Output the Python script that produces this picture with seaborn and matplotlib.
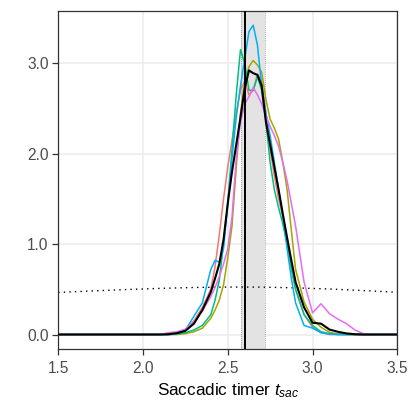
import numpy as np
import pandas as pd
import seaborn as sns
import matplotlib
matplotlib.use("Agg")
import matplotlib.pyplot as plt

# x grid the curves were read on
grid = [1.5, 2.10, 2.15, 2.20, 2.25, 2.30, 2.35, 2.40, 2.425, 2.45, 2.475, 2.50, 2.525,
        2.55, 2.575, 2.60, 2.625, 2.65, 2.675, 2.70, 2.725, 2.75, 2.775, 2.80, 2.825,
        2.85, 2.875, 2.90, 2.95, 3.00, 3.05, 3.10, 3.15, 3.20, 3.25, 3.30, 3.35, 3.5]

run_1 = [0, 0, 0, 0.01, 0.05, 0.15, 0.30, 0.50, 0.75, 1.10, 1.50, 1.85, 2.15,
         2.45, 2.70, 2.80, 2.65, 2.70, 2.88, 2.80, 2.45, 2.05, 1.75, 1.50, 1.30,
         1.00, 0.72, 0.50, 0.22, 0.08, 0.02, 0, 0, 0, 0, 0, 0, 0]
run_2 = [0, 0, 0, 0, 0.01, 0.03, 0.07, 0.18, 0.27, 0.38, 0.55, 0.85, 1.20,
         1.85, 2.45, 2.80, 2.96, 3.03, 2.98, 2.90, 2.60, 2.38, 2.28, 2.16, 1.90,
         1.60, 1.15, 0.72, 0.36, 0.17, 0.08, 0.025, 0.005, 0, 0, 0, 0, 0]
run_3 = [0, 0, 0, 0.005, 0.02, 0.05, 0.10, 0.22, 0.38, 0.60, 1.00, 1.45, 2.05,
         2.65, 3.15, 3.00, 2.70, 2.70, 2.85, 2.70, 2.35, 1.90, 1.60, 1.40, 1.22,
         1.00, 0.75, 0.50, 0.22, 0.10, 0.03, 0.01, 0, 0, 0, 0, 0, 0]
run_4 = [0, 0, 0, 0.01, 0.05, 0.20, 0.35, 0.72, 0.82, 0.80, 0.95, 1.45, 1.95,
         2.40, 2.75, 3.05, 3.35, 3.42, 3.20, 2.75, 2.45, 2.20, 1.90, 1.60, 1.30,
         0.95, 0.62, 0.35, 0.10, 0.07, 0.02, 0.005, 0, 0, 0, 0, 0, 0]
run_5 = [0, 0, 0.02, 0.03, 0.06, 0.14, 0.26, 0.42, 0.52, 0.64, 0.78, 0.95, 1.30,
         1.95, 2.35, 2.55, 2.63, 2.73, 2.65, 2.55, 2.42, 2.30, 2.20, 2.08, 1.90,
         1.70, 1.45, 1.20, 0.58, 0.24, 0.34, 0.23, 0.17, 0.12, 0.05, 0.01, 0, 0]
mean_run = [0, 0, 0.003, 0.015, 0.04, 0.12, 0.27, 0.47, 0.62, 0.78, 1.05, 1.45, 1.80,
            2.10, 2.40, 2.72, 2.92, 2.89, 2.87, 2.75, 2.35, 2.10, 1.85, 1.60, 1.33,
            1.07, 0.82, 0.58, 0.30, 0.13, 0.12, 0.055, 0.03, 0.012, 0.003, 0, 0, 0]

# broad prior (dotted)
prior_x = [1.5, 1.7, 1.9, 2.1, 2.3, 2.5, 2.7, 2.9, 3.1, 3.3, 3.5]
prior_y = [0.465, 0.482, 0.497, 0.510, 0.520, 0.525, 0.524, 0.516, 0.503, 0.486, 0.467]

true_value = 2.6
band_lo, band_hi = 2.58, 2.72

runs = ["1", "2", "3", "4", "5"]
palette = {"1": "#F8766D", "2": "#A3A500", "3": "#00BF7D", "4": "#00B0F6", "5": "#E76BF3"}

df = pd.concat(
    [pd.DataFrame({"x": grid, "density": vals, "run": r})
     for r, vals in zip(runs, [run_1, run_2, run_3, run_4, run_5])],
    ignore_index=True,
)

sns.set_style("white")
plt.rcParams["font.family"] = ["Liberation Sans", "DejaVu Sans"]
plt.rcParams["mathtext.fontset"] = "custom"
plt.rcParams["mathtext.it"] = "Liberation Sans:italic"
plt.rcParams["mathtext.rm"] = "Liberation Sans"

fig = plt.figure(figsize=(4.13, 4.13), dpi=100)
ax = fig.add_axes([0.141, 0.155, 0.821, 0.819])

ax.axvspan(band_lo, band_hi, color="#E3E3E3", zorder=1, lw=0)
for v in (band_lo, band_hi):
    ax.axvline(v, color="#888888", lw=0.6, ls=(0, (1, 1.5)), zorder=1.5)

sns.lineplot(data=df, x="x", y="density", hue="run", palette=palette,
             linewidth=1.1, legend=False, ax=ax, zorder=3)
sns.lineplot(x=grid, y=mean_run, color="black", linewidth=1.5, ax=ax, zorder=4)
sns.lineplot(x=prior_x, y=prior_y, color="black", linewidth=1.0,
             linestyle=(0, (1, 3)), ax=ax, zorder=2)
ax.axvline(true_value, color="black", lw=1.4, zorder=5)

ax.set_xlim(1.5, 3.5)
ax.set_ylim(-0.16, 3.58)
ax.set_xticks([1.5, 2.0, 2.5, 3.0, 3.5])
ax.set_xticklabels(["1.5", "2.0", "2.5", "3.0", "3.5"])
ax.set_yticks([0, 1, 2, 3])
ax.set_yticklabels(["0.0", "1.0", "2.0", "3.0"])
ax.grid(True, color="#EBEBEB", lw=1.1, zorder=0)
ax.set_axisbelow(True)
for s in ax.spines.values():
    s.set_color("#333333")
    s.set_linewidth(0.9)
ax.tick_params(axis="both", direction="out", length=4, width=0.9, color="#333333",
               labelcolor="#4D4D4D", labelsize=11.2, pad=3, bottom=True, left=True)
ax.tick_params(axis="x", pad=4.5)
ax.set_xlabel("Saccadic timer $t_{sac}$", fontsize=12.3, color="black", labelpad=4)
ax.set_ylabel("")

fig.savefig("out.png", dpi=100)
